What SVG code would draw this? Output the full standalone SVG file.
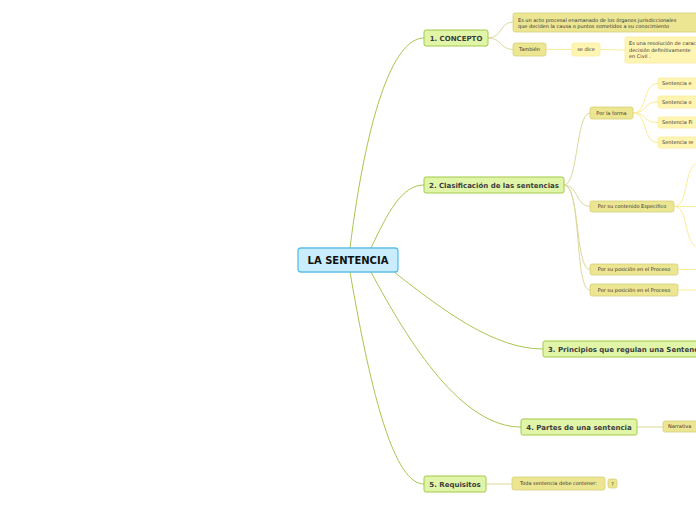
<svg xmlns="http://www.w3.org/2000/svg" width="696" height="520" viewBox="0 0 696 520">
<style>
.root{fill:#c9edfc;stroke:#5dbfe9;stroke-width:1.3}
.l1{fill:#e1f5a9;stroke:#a2c948;stroke-width:1}
.l2{fill:#ece592;stroke:#d8d07a;stroke-width:0.8}
.l3{fill:#fff5b3;stroke:#fbeb9c;stroke-width:0.8}
.c0{fill:none;stroke:#a8c650;stroke-width:1}
.c1{fill:none;stroke:#dcd89a;stroke-width:1}
.c2{fill:none;stroke:#fcec97;stroke-width:1}
text{font-family:"DejaVu Sans",Verdana,sans-serif}
.tr{font-size:10px;font-weight:bold;fill:#111}
.t1{font-size:7px;font-weight:bold;fill:#3d3d3d}
.t2{font-size:5px;fill:#333}
</style>
<g id="connectors">
<path class="c0" d="M350,248 C366,120 392,38 424,38"/>
<path class="c0" d="M371,248 C388,212 402,185 424,185"/>
<path class="c0" d="M394,272 C445,312 495,349 543,349"/>
<path class="c0" d="M371,272 C410,345 462,427 521,427"/>
<path class="c0" d="M350,272 C372,400 395,484 424,484"/>
<path class="c1" d="M488,38 C502,38 500,22 513,22"/>
<path class="c1" d="M488,38 C502,38 500,49.5 513,49.5"/>
<path class="c2" d="M546,49.5 L572,49.5"/>
<path class="c2" d="M600,49.5 C612,49.5 612,50 625,50"/>
<path class="c1" d="M564,185 C578,185 576,113 590,113"/>
<path class="c1" d="M564,185 C578,185 576,206.5 590,206.5"/>
<path class="c1" d="M564,185 C580,185 575,269.5 590,269.5"/>
<path class="c1" d="M564,185 C582,185 574,290 590,290"/>
<path class="c2" d="M633,113 C648,113 642,83.5 658,83.5"/>
<path class="c2" d="M633,113 C648,113 642,102 658,102"/>
<path class="c2" d="M633,113 C648,113 642,122.5 658,122.5"/>
<path class="c2" d="M633,113 C648,113 642,142.5 658,142.5"/>
<path class="c2" d="M674,206.5 C690,206.5 682,165 700,162"/>
<path class="c2" d="M674,206.5 L696,206.5"/>
<path class="c2" d="M674,206.5 C690,206.5 682,245 700,248"/>
<path class="c2" d="M678,269.5 L696,269.5"/>
<path class="c2" d="M678,290 L696,290"/>
<path class="c1" d="M637,427 L663,427"/>
<path class="c1" d="M486,484 L512,484"/>
</g>
<g id="root"><rect class="root" x="298" y="248" width="100" height="24" rx="3"/><text class="tr" x="348" y="264" text-anchor="middle">LA SENTENCIA</text></g>
<g id="n1"><rect class="l1" x="424" y="30" width="64" height="16" rx="2"/><text class="t1" x="456" y="40.5" text-anchor="middle">1. CONCEPTO</text></g>
<g id="n2"><rect class="l1" x="424" y="177" width="140" height="16" rx="2"/><text class="t1" x="494" y="187.5" text-anchor="middle">2. Clasificación de las sentencias</text></g>
<g id="n3"><rect class="l1" x="543" y="341" width="170" height="16" rx="2"/><text class="t1" x="548" y="351.5">3. Principios que regulan una Sentencia</text></g>
<g id="n4"><rect class="l1" x="521" y="419" width="116" height="16" rx="2"/><text class="t1" x="579" y="429.5" text-anchor="middle">4. Partes de una sentencia</text></g>
<g id="n5"><rect class="l1" x="424" y="476" width="62" height="16" rx="2"/><text class="t1" x="455" y="486.5" text-anchor="middle">5. Requisitos</text></g>
<g id="n1a"><rect class="l2" x="513" y="13" width="190" height="19" rx="2"/><text class="t2" x="518" y="21.5">Es un acto procesal enamanado de los órganos jurisdiccionales</text><text class="t2" x="518" y="28">que deciden la causa  o puntos sometidos a su conocimiento</text></g>
<g id="n1b"><rect class="l2" x="513" y="43" width="33" height="13" rx="2"/><text class="t2" x="529.5" y="51.3" text-anchor="middle">También</text></g>
<g id="n1b1"><rect class="l3" x="572" y="43" width="28" height="13" rx="2"/><text class="t2" x="586" y="51.3" text-anchor="middle">se dice</text></g>
<g id="n1b2"><rect class="l3" x="625" y="37" width="80" height="26" rx="2"/><text class="t2" x="629" y="45">Es una resolución de caracter</text><text class="t2" x="629" y="51.5">decisión definitivamente</text><text class="t2" x="629" y="58">en Civil .</text></g>
<g id="n2a"><rect class="l2" x="590" y="107" width="43" height="12" rx="2"/><text class="t2" x="611.5" y="114.8" text-anchor="middle">Por la forma</text></g>
<g id="n2a1"><rect class="l3" x="658" y="78" width="50" height="11" rx="2"/><text class="t2" x="662" y="85.3">Sentencia e</text></g>
<g id="n2a2"><rect class="l3" x="658" y="96" width="50" height="12" rx="2"/><text class="t2" x="662" y="103.8">Sentencia o</text></g>
<g id="n2a3"><rect class="l3" x="658" y="117" width="50" height="11" rx="2"/><text class="t2" x="662" y="124.3">Sentencia Fi</text></g>
<g id="n2a4"><rect class="l3" x="658" y="137" width="50" height="11" rx="2"/><text class="t2" x="662" y="144.3">Sentencia re</text></g>
<g id="n2b"><rect class="l2" x="590" y="201" width="84" height="11" rx="2"/><text class="t2" x="632" y="208.3" text-anchor="middle">Por su contenido Especifico</text></g>
<g id="n2c"><rect class="l2" x="590" y="264" width="88" height="11" rx="2"/><text class="t2" x="634" y="271.3" text-anchor="middle">Por su posición en el Proceso</text></g>
<g id="n2d"><rect class="l2" x="590" y="284" width="88" height="12" rx="2"/><text class="t2" x="634" y="291.8" text-anchor="middle">Por su posición en el Proceso</text></g>
<g id="n4a"><rect class="l2" x="663" y="421" width="40" height="11" rx="2"/><text class="t2" x="668" y="428.3">Narrativa</text></g>
<g id="n5a"><rect class="l2" x="512" y="477" width="93" height="13" rx="2"/><text class="t2" x="558.5" y="485.3" text-anchor="middle">Toda sentencia debe contener:</text></g>
<g id="n5b"><rect class="l2" x="608" y="479" width="9" height="9" rx="2"/><text class="t2" x="612.5" y="485.5" text-anchor="middle">?</text></g>
</svg>
